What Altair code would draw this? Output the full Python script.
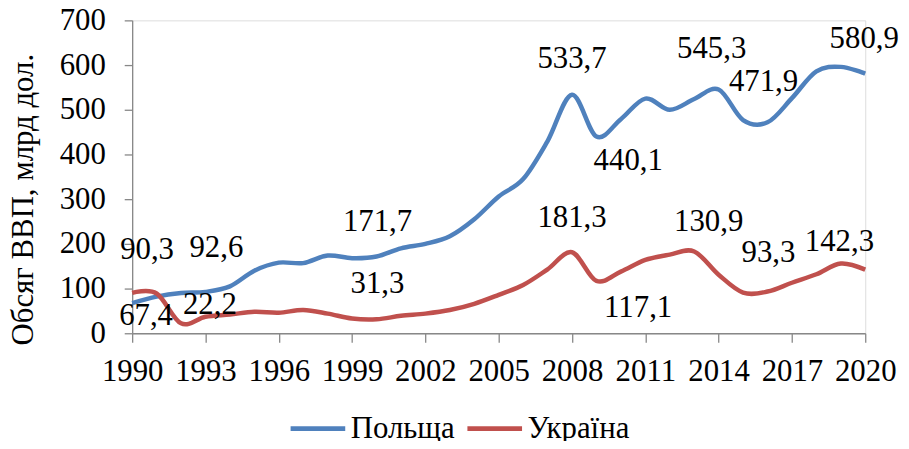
import altair as alt
import pandas as pd

years = list(range(1990, 2021))
poland = [67.4, 82, 90, 92.6, 105, 140, 158, 157, 174, 168, 171.7, 190, 200, 217, 255,
          306, 345, 430, 533.7, 440.1, 479, 525, 500, 524, 545.3, 477, 471.9, 526, 586, 596, 580.9]
ukraine = [90.3, 89, 22.2, 37, 42, 48, 46, 52, 44, 33, 31.3, 39, 44, 52, 66,
           86, 108, 143, 181.3, 117.1, 138, 164, 176, 183, 130.9, 91, 93.3, 113, 132, 156, 142.3]
series_names = ["Польща", "Україна"]
colors = ["#4F81BD", "#C0504D"]
x_ticks = list(range(1990, 2021, 3))
y_ticks = list(range(0, 701, 100))

# labelled points: (series, year) and pixel offsets of the label from its point
label_series = ["Україна", "Польща", "Польща", "Україна", "Польща", "Україна", "Польща", "Польща",
                "Польща", "Польща", "Польща", "Україна", "Україна", "Україна", "Україна", "Україна"]
label_years = [1990, 1990, 1993, 1992, 2000, 2000, 2008, 2009,
               2014, 2016, 2020, 2008, 2009, 2014, 2016, 2020]
label_dx = [15, 14, 11, 29, 1, 1, 0, 32, -7, -4, -1, 0, 42, -10, 1, -26]
label_dy = [-43, 13, -44, -18, -35, -35, -36, 25, -41, -41, -35, -34, 27, -53, -39, -28]

FONT = "Liberation Serif"
FS = 31

rows = []
for name, vals in zip(series_names, [poland, ukraine]):
    for y, v in zip(years, vals):
        rows.append({"year": y, "value": v, "country": name})
df = pd.DataFrame(rows)

xenc = alt.X("year:Q", scale=alt.Scale(domain=[1990, 2020], nice=False, zero=False),
             axis=alt.Axis(values=x_ticks, format="d", title=None, grid=False,
                           labelFont=FONT, labelFontSize=FS, labelColor="black",
                           labelFlush=False, labelOverlap=False, labelPadding=15,
                           tickSize=9, tickColor="#888888", domainColor="#888888",
                           domainWidth=1.3, tickWidth=1.3))
yenc = alt.Y("value:Q", scale=alt.Scale(domain=[0, 700], nice=False, zero=True),
             axis=alt.Axis(values=y_ticks, title="Обсяг ВВП, млрд дол.", grid=False,
                           labelFont=FONT, labelFontSize=FS, labelColor="black",
                           labelPadding=19, tickSize=8, tickColor="#888888",
                           domainColor="#888888", domainWidth=1.3, tickWidth=1.3,
                           titleFont=FONT, titleFontSize=FS, titleFontWeight="normal",
                           titleColor="black", titleX=-100, titleY=180,
                           titleAlign="center", titleBaseline="alphabetic"))
color = alt.Color("country:N", scale=alt.Scale(domain=series_names, range=colors),
                  legend=alt.Legend(title=None, orient="none", legendX=157, legendY=381,
                                    direction="horizontal", symbolType="stroke",
                                    symbolSize=3025, symbolStrokeWidth=5,
                                    labelFont=FONT, labelFontSize=FS, labelColor="black",
                                    labelOffset=3, columnPadding=2, labelLimit=300,
                                    padding=0))

layers = []
for name in series_names:
    layers.append(alt.Chart(df).transform_filter(alt.datum.country == name)
                  .mark_line(interpolate="cardinal", strokeWidth=4.5)
                  .encode(x=xenc, y=yenc, color=color))

series_map = {"Польща": poland, "Україна": ukraine}
for s, yr, dx, dy in zip(label_series, label_years, label_dx, label_dy):
    v = series_map[s][years.index(yr)]
    ldf = pd.DataFrame([{"year": yr, "value": v, "text": f"{v:.1f}".replace(".", ",")}])
    layers.append(alt.Chart(ldf).mark_text(font=FONT, fontSize=FS, color="black",
                                           align="center", baseline="middle", dx=dx, dy=dy)
                  .encode(x=alt.X("year:Q"), y=alt.Y("value:Q"), text="text:N"))

chart = alt.layer(*layers).properties(
    width=738, height=315,
    autosize=alt.AutoSizeParams(type="none"),
    padding={"left": 125, "top": 11, "right": 36, "bottom": 107},
).configure_view(stroke=None).configure(background="white")

chart.save("out.html", embed_options={"renderer": "svg", "actions": False})
